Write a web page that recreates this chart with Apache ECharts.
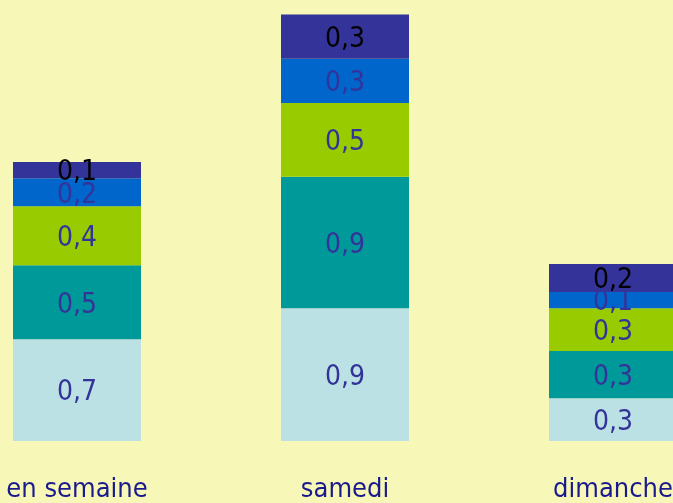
<!DOCTYPE html>
<html>
<head>
<meta charset="utf-8">
<style>
  html, body { margin: 0; padding: 0; background: #f7f7b7; overflow: hidden; }
  #cadre { position: relative; width: 673px; height: 503px; overflow: hidden; }
  #chart { position: absolute; left: -57px; top: 0; width: 804px; height: 503px; }
</style>
<script src="https://cdn.jsdelivr.net/npm/echarts@6/dist/echarts.min.js"></script>
</head>
<body>
<div id="cadre"><div id="chart"></div></div>
<script>
// catégories et valeurs
var jours = ['en semaine', 'samedi', 'dimanche']
var clair = [0.69, 0.90, 0.29]
var sarcelle = [0.50, 0.89, 0.32]
var vert = [0.40, 0.50, 0.29]
var bleu = [0.19, 0.30, 0.11]
var violet = [0.11, 0.30, 0.19]

var police = "'DejaVu Sans Condensed', 'Liberation Sans Narrow', sans-serif"

function fmt(p) {
  return p.value.toFixed(1).replace('.', ',')
}

function couche(nom, data, color, labelColor) {
  return {
    name: nom,
    type: 'bar',
    stack: 'total',
    barWidth: 128,
    data: data,
    itemStyle: { color: color },
    label: {
      show: true,
      position: 'inside',
      offset: [0, 3],
      formatter: fmt,
      color: labelColor,
      fontFamily: police,
      fontSize: 28
    }
  }
}

var chart = echarts.init(document.getElementById('chart'))
chart.setOption({
  backgroundColor: '#f7f7b7',
  animation: false,
  grid: {
    left: 0,
    right: 0,
    top: 13,
    bottom: 59
  },
  xAxis: {
    type: 'category',
    data: jours,
    axisLine: { show: false },
    axisTick: { show: false },
    axisLabel: {
      color: '#1a1a8c',
      fontFamily: police,
      fontSize: 27,
      margin: 35,
      interval: 0
    }
  },
  yAxis: {
    type: 'value',
    min: 0,
    max: 2.9,
    show: false
  },
  series: [
    couche('clair', clair, '#bce1e4', '#333399'),
    couche('sarcelle', sarcelle, '#009999', '#333399'),
    couche('vert', vert, '#99cc00', '#333399'),
    couche('bleu', bleu, '#0066cc', '#333399'),
    couche('violet', violet, '#333399', '#000000')
  ]
})
</script>
</body>
</html>
